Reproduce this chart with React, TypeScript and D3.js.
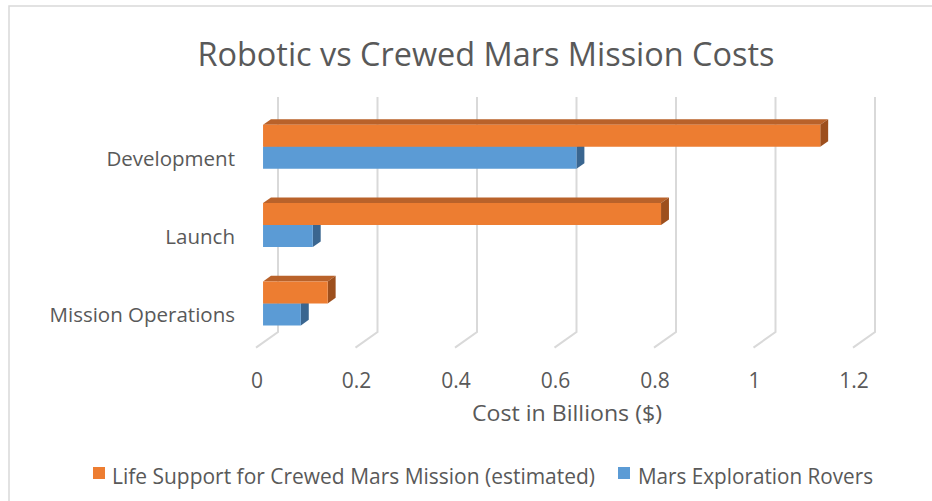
import React from "react";
import * as d3 from "d3";

const categories = ["Development", "Launch", "Mission Operations"];
const seriesNames = ["Life Support for Crewed Mars Mission (estimated)", "Mars Exploration Rovers"];
const lifeSupport = [1.12, 0.8, 0.13];
const rovers = [0.63, 0.1, 0.076];
const xTicks = [0, 0.2, 0.4, 0.6, 0.8, 1, 1.2];

const W = 932;
const H = 501;
const FONT = "'Open Sans', 'Noto Sans', sans-serif";
const TXT = "#595959";
const GRID = "#d9d9d9";

// 3D depth vector (back -> front)
const DX = -22;
const DY = 15.6;
const D0 = 0.32;
const D1 = 0.68;

const colors = {
  orange: { front: "#ED7D31", top: "#B9622A", side: "#9D4F1D" },
  blue: { front: "#5B9BD5", top: "#4A7FB0", side: "#3A6690" },
};

export default function App() {
  const x = d3.scaleLinear().domain([0, 1.2]).range([278, 875]);
  const y = d3
    .scaleBand<string>()
    .domain(categories)
    .range([97, 332])
    .paddingInner(0.438)
    .paddingOuter(0.219);
  const sub = d3.scaleBand<string>().domain(seriesNames).range([0, y.bandwidth()]);

  const P = (v: number, yy: number, d: number) => [x(v) + DX * d, yy + DY * d];
  const pts = (arr: number[][]) => arr.map((p) => p.join(",")).join(" ");

  const series = [
    { name: seriesNames[1], values: rovers, c: colors.blue },
    { name: seriesNames[0], values: lifeSupport, c: colors.orange },
  ];

  const bars: React.ReactNode[] = [];
  categories.forEach((cat, i) => {
    series.forEach((s) => {
      const v = s.values[i];
      const yt = (y(cat) as number) + (sub(s.name) as number);
      const yb = yt + sub.bandwidth();
      const front = [P(0, yt, D1), P(v, yt, D1), P(v, yb, D1), P(0, yb, D1)];
      const top = [P(0, yt, D1), P(v, yt, D1), P(v, yt, D0), P(0, yt, D0)];
      const side = [P(v, yt, D1), P(v, yt, D0), P(v, yb, D0), P(v, yb, D1)];
      bars.push(
        <g key={cat + s.name}>
          <polygon points={pts(top)} fill={s.c.top} />
          <polygon points={pts(side)} fill={s.c.side} />
          <polygon points={pts(front)} fill={s.c.front} />
        </g>
      );
    });
  });

  const [y0, y1] = y.range();

  return (
    <svg
      width={W}
      height={H}
      style={{ position: "fixed", left: 0, top: 0, background: "#fff" }}
      fontFamily={FONT}
    >
      <rect x={9} y={6} width={W + 20} height={H + 20} fill="#fff" stroke={GRID} strokeWidth={1.5} />
      <text x={486} y={66} textAnchor="middle" fontSize={32.5} fill={TXT} textLength={577} lengthAdjust="spacingAndGlyphs">
        Robotic vs Crewed Mars Mission Costs
      </text>
      {xTicks.map((t) => (
        <g key={t}>
          <polyline
            points={pts([P(t, y0, 0), P(t, y1, 0), P(t, y1, 1)])}
            fill="none"
            stroke={GRID}
            strokeWidth={2}
          />
          <text x={x(t) + DX + 1} y={388} textAnchor="middle" fontSize={21} fill={TXT}>
            {d3.format("~g")(t)}
          </text>
        </g>
      ))}
      {bars}
      {categories.map((cat) => (
        <text
          key={cat}
          x={235}
          y={(y(cat) as number) + y.bandwidth() / 2 + DY + 14}
          textAnchor="end"
          fontSize={20.5}
          fill={TXT}
        >
          {cat}
        </text>
      ))}
      <text x={567} y={421} textAnchor="middle" fontSize={22} fill={TXT} textLength={190} lengthAdjust="spacingAndGlyphs">
        Cost in Billions ($)
      </text>
      <g>
        <rect x={93} y={467} width={12} height={12} fill={colors.orange.front} />
        <text x={112} y={484} fontSize={21} fill={TXT} textLength={483} lengthAdjust="spacingAndGlyphs">
          {seriesNames[0]}
        </text>
        <rect x={618} y={467} width={12} height={12} fill={colors.blue.front} />
        <text x={638} y={484} fontSize={21} fill={TXT} textLength={235} lengthAdjust="spacingAndGlyphs">
          {seriesNames[1]}
        </text>
      </g>
    </svg>
  );
}
